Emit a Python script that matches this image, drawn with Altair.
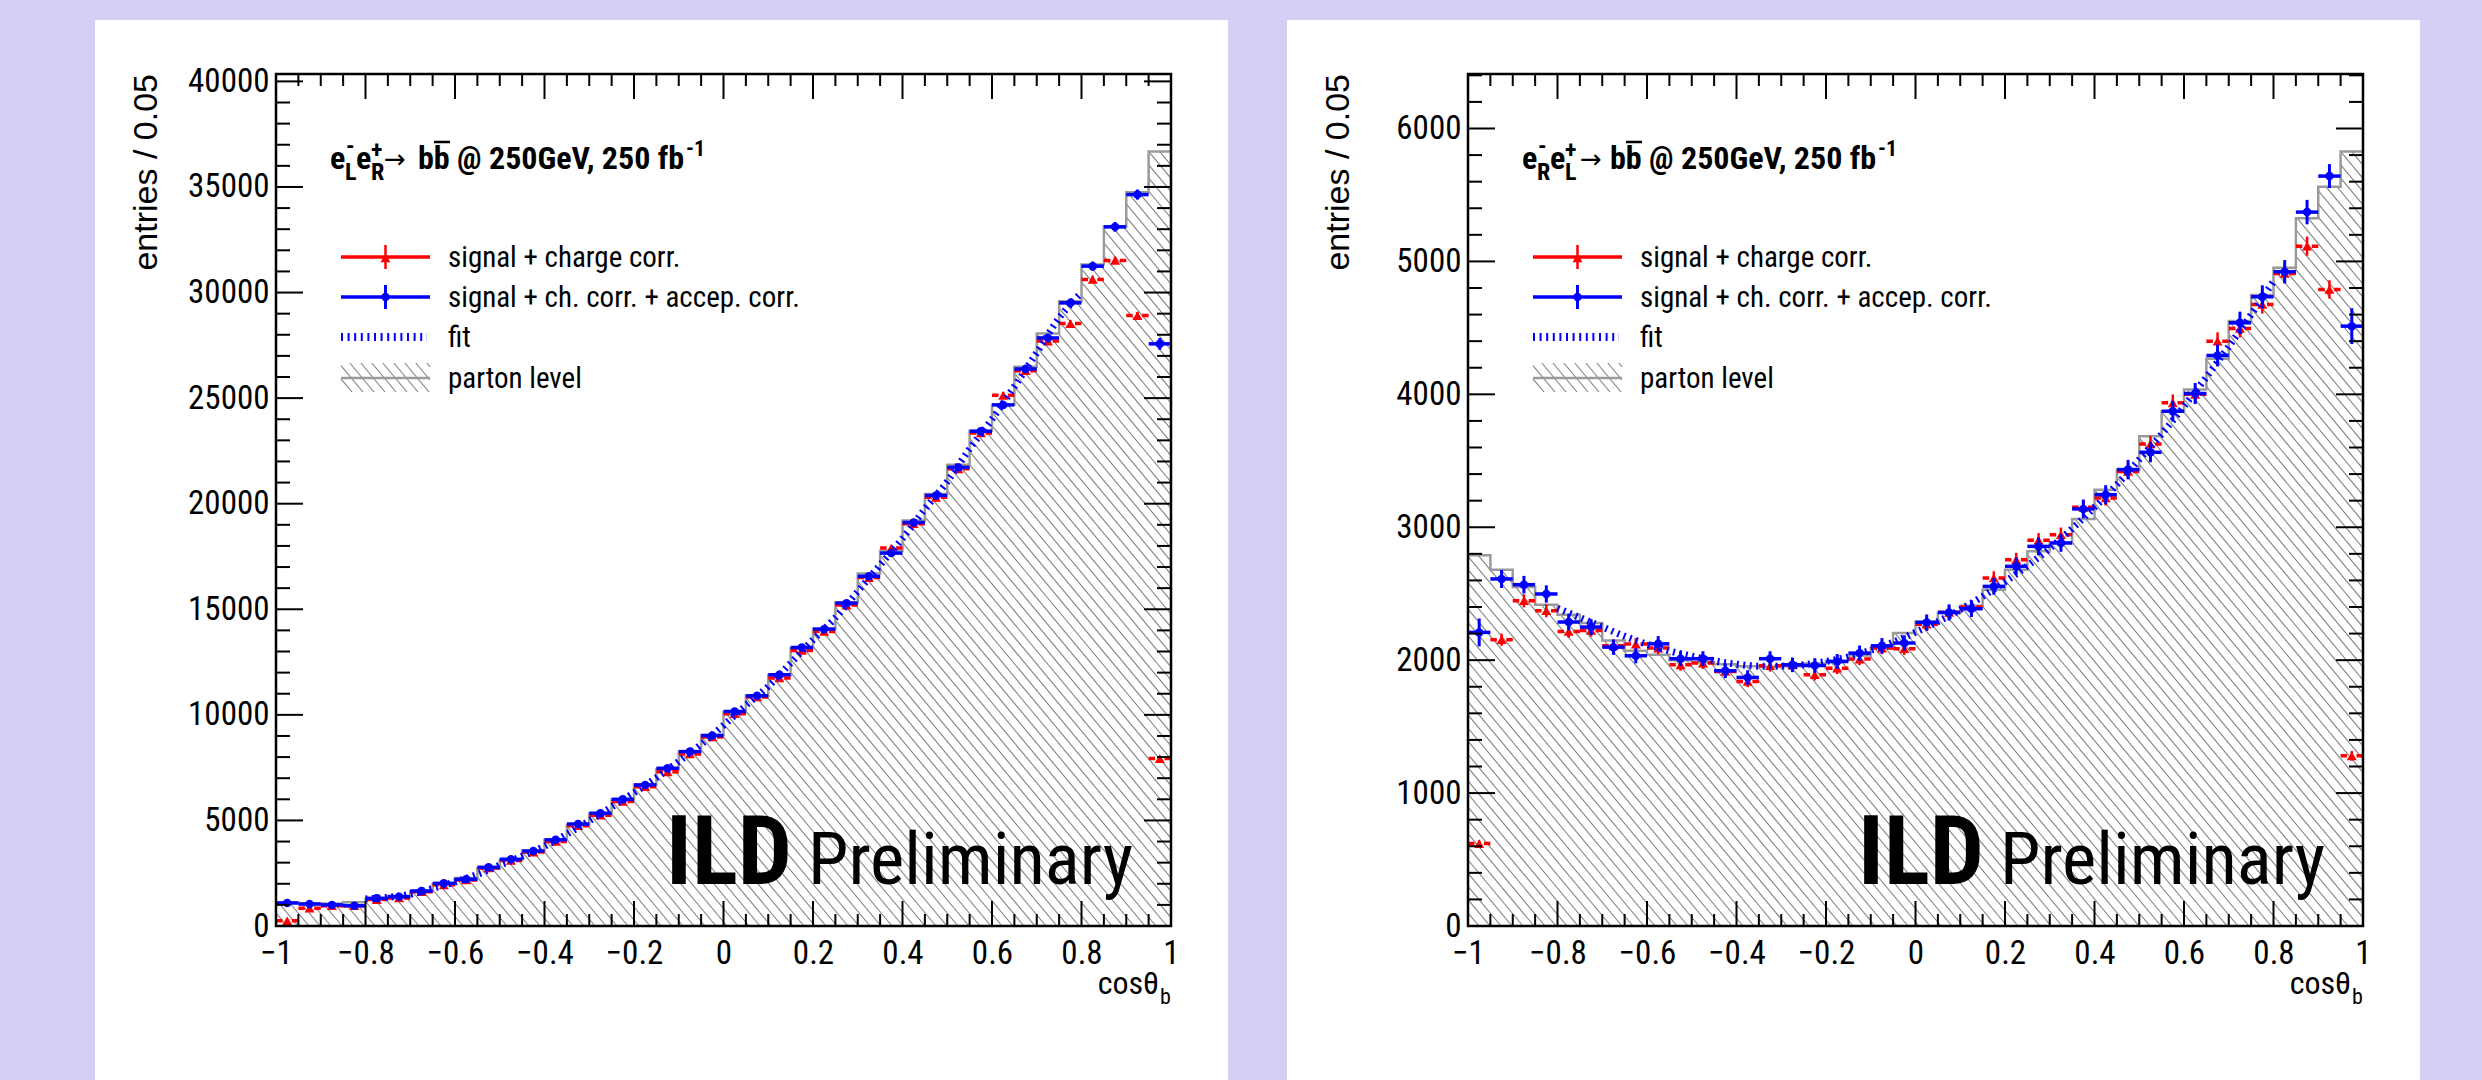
import altair as alt
import pandas as pd

# ---------------------------------------------------------------- style
FONT = "Roboto Condensed, Liberation Sans Narrow, Arial Narrow, Liberation Sans, sans-serif"
YFONT = "Liberation Sans, Arial, sans-serif"
RED, BLUE = "#ff0000", "#0000ff"
GREY_LINE = "#9a9a9a"
HATCH = "#808080"
PAGE_BG = "#d4cff3"

W, H = 895, 852          # plot area of one panel, px
N_BINS = 40              # cos(theta_b) bins of width 0.05

# ---------------------------------------------------------------- data
lo_edges = [round(-1 + 0.05 * i, 2) for i in range(N_BINS)]
fit_x = [round(-0.8 + 0.05 * i, 2) for i in range(33)]

# e-_L e+_R -> b bbar
lr_parton = [1130, 1080, 1060, 1120, 1280, 1420, 1650, 1980, 2270, 2720,
             3130, 3580, 4080, 4780, 5330, 5990, 6700, 7440, 8260, 9050,
             10120, 10920, 11880, 13150, 14080, 15330, 16700, 17770, 19210, 20460,
             21850, 23460, 24690, 26480, 28060, 29590, 31330, 33140, 34750, 36680]
lr_red = [250, 840, 960, 960, 1250, 1330, 1620, 1950, 2180, 2750,
          3100, 3500, 4000, 4750, 5250, 5900, 6600, 7300, 8150, 8950,
          10050, 10850, 11750, 13050, 13950, 15200, 16500, 17900, 19050, 20300,
          21650, 23350, 25130, 26300, 27700, 28530, 30620, 31520, 28910, 7930]
lr_red_err = [20, 30, 30, 30, 35, 37, 40, 44, 47, 52, 56, 59, 63, 69, 73, 77, 82, 85, 90, 95,
              100, 104, 108, 114, 118, 123, 128, 134, 138, 142, 147, 153, 158, 162, 166, 169,
              175, 177, 170, 89]
lr_blue = [1090, 1040, 1000, 960, 1310, 1390, 1660, 2020, 2210, 2780,
           3160, 3550, 4080, 4830, 5340, 6000, 6680, 7470, 8260, 9020,
           10160, 10900, 11900, 13190, 14060, 15290, 16560, 17660, 19110, 20390,
           21720, 23430, 24680, 26380, 27850, 29510, 31250, 33110, 34640, 27570]
lr_blue_err = [60, 45, 45, 45, 50, 50, 55, 60, 60, 70, 75, 80, 85, 90, 95, 100, 105, 110, 115, 120,
               125, 130, 135, 145, 150, 155, 160, 165, 170, 175, 180, 190, 195, 200, 205, 210,
               220, 230, 240, 280]
lr_fit = [1280, 1360, 1500, 1780, 2090, 2440, 2880, 3300, 3780, 4350, 4980, 5640, 6310,
          7020, 7800, 8600, 9500, 10450, 11350, 12450, 13550, 14600, 15850, 17100, 18350,
          19750, 21050, 22600, 24000, 25550, 27150, 28800, 30000]

# e-_R e+_L -> b bbar
rl_parton = [2789, 2681, 2550, 2417, 2342, 2279, 2148, 2070, 2040, 2000,
             1985, 1970, 1955, 1950, 1955, 1975, 1995, 2035, 2090, 2204,
             2290, 2355, 2410, 2530, 2680, 2819, 2880, 3062, 3283, 3430,
             3685, 3873, 4036, 4267, 4551, 4747, 4952, 5324, 5562, 5826]
rl_red = [620, 2154, 2447, 2372, 2216, 2224, 2108, 2121, 2091, 1965,
          1978, 1915, 1840, 1958, 1965, 1890, 1940, 2008, 2091, 2086,
          2270, 2360, 2400, 2618, 2756, 2902, 2944, 3150, 3220, 3420,
          3627, 3936, 4000, 4400, 4496, 4676, 4910, 5115, 4789, 1280]
rl_red_err = [25, 46, 49, 49, 47, 47, 46, 46, 46, 44, 44, 44, 43, 44, 44, 43, 44, 45, 46, 46,
              48, 49, 49, 51, 52, 54, 54, 56, 57, 58, 60, 63, 63, 66, 67, 68, 70, 72, 69, 36]
rl_blue = [2209, 2611, 2568, 2498, 2287, 2249, 2098, 2033, 2123, 2011,
           2011, 1920, 1870, 2011, 1965, 1960, 1990, 2053, 2108, 2129,
           2284, 2359, 2387, 2555, 2706, 2856, 2882, 3138, 3245, 3434,
           3564, 3873, 4006, 4292, 4538, 4734, 4922, 5371, 5642, 4513]
rl_blue_err = [105, 68, 66, 65, 62, 60, 58, 57, 58, 56, 56, 55, 54, 56, 55, 55, 56, 57, 58, 58,
               60, 61, 62, 63, 65, 67, 67, 70, 71, 73, 75, 78, 79, 82, 84, 86, 88, 92, 90, 135]
rl_fit = [2390, 2320, 2250, 2180, 2120, 2070, 2030, 1995, 1970, 1955, 1955, 1965, 1990,
          2025, 2075, 2135, 2210, 2290, 2380, 2480, 2590, 2710, 2840, 2990, 3150, 3320,
          3510, 3700, 3910, 4130, 4360, 4600, 4850]

ONE = pd.DataFrame({"k": [0]})


# ---------------------------------------------------------------- helpers
def px2x(px):
    return -1.0 + 2.0 * px / W


def py2y(py, ymax):
    return ymax * (1.0 - py / H)


def hatch_rows(ymax, left, top, right, bottom, spacing=11.0, slope=1.2):
    """Diagonal '\\' hatch lines clipped to a pixel box, returned in data units."""
    rows = []
    run = (bottom - top) / slope
    a = left - run
    while a < right:
        t0 = max(top, top + (left - a) * slope)
        t1 = min(bottom, top + (right - a) * slope)
        if t1 > t0:
            xa = a + (t0 - top) / slope
            xb = a + (t1 - top) / slope
            rows.append({"x1": px2x(xa), "y1": py2y(t0, ymax),
                         "x2": px2x(xb), "y2": py2y(t1, ymax)})
        a += spacing
    return pd.DataFrame(rows)


def tick_rows(ymax, y_major, y_minor):
    """Inward ticks on all four sides of the frame."""
    x_major = [round(-1 + 0.2 * i, 2) for i in range(11)]
    x_minor = [round(-1 + 0.05 * i, 2) for i in range(41) if i % 4]
    rows = []
    for vals, ln in ((x_major, 25), (x_minor, 12)):
        d = ln / H * ymax
        for v in vals:
            rows.append(dict(x1=v, x2=v, y1=0, y2=d))
            rows.append(dict(x1=v, x2=v, y1=ymax, y2=ymax - d))
    for vals, ln in ((y_major, 27), (y_minor, 14)):
        d = ln / W * 2
        for v in vals:
            rows.append(dict(x1=-1, x2=-1 + d, y1=v, y2=v))
            rows.append(dict(x1=1, x2=1 - d, y1=v, y2=v))
    return pd.DataFrame(rows)


def label(text, px, py, size, weight="normal", font=FONT, align="left",
          baseline="alphabetic", angle=0):
    mk = dict(text=text, font=font, fontSize=size, fontWeight=weight,
              align=align, baseline=baseline, color="black")
    if angle:
        mk["angle"] = angle
    return alt.Chart(ONE).mark_text(**mk).encode(x=alt.value(px), y=alt.value(py))


def hline(x1, x2, y, color, width, dash=None):
    mk = dict(color=color, strokeWidth=width)
    if dash:
        mk["strokeDash"] = dash
    return alt.Chart(ONE).mark_rule(**mk).encode(x=alt.value(x1), x2=alt.value(x2), y=alt.value(y))


def vline(x, y1, y2, color, width):
    return alt.Chart(ONE).mark_rule(color=color, strokeWidth=width).encode(
        x=alt.value(x), y=alt.value(y1), y2=alt.value(y2))


def panel(parton, red, red_err, blue, blue_err, fit, ymax, y_major, y_minor, beam):
    xs = alt.Scale(domain=[-1, 1], nice=False, zero=False)
    ysc = alt.Scale(domain=[0, ymax], nice=False, zero=False)

    bins = pd.DataFrame({
        "lo": lo_edges,
        "hi": [round(v + 0.05, 2) for v in lo_edges],
        "c": [round(v + 0.025, 3) for v in lo_edges],
        "red": red, "red_lo": [v - e for v, e in zip(red, red_err)],
        "red_hi": [v + e for v, e in zip(red, red_err)],
        "blue": blue, "blue_lo": [v - e for v, e in zip(blue, blue_err)],
        "blue_hi": [v + e for v, e in zip(blue, blue_err)],
    })
    hist = pd.DataFrame({"edge": lo_edges + [1.0], "val": parton + [parton[-1]],
                         "top": [ymax] * (N_BINS + 1)})
    fit_df = pd.DataFrame({"x": fit_x, "y": fit})

    x_axis = alt.Axis(values=[round(-1 + 0.2 * i, 2) for i in range(11)], format=".1~f",
                      ticks=False, tickSize=0, domain=False, grid=False, title=None,
                      labelFont=FONT, labelFontSize=33, labelColor="black",
                      labelPadding=11, labelFlush=False, labelOverlap=False, zindex=1)
    y_axis = alt.Axis(values=y_major, format="d", ticks=False, tickSize=0, domain=False,
                      grid=False, title=None, labelFont=FONT, labelFontSize=33,
                      labelColor="black", labelPadding=7, labelFlush=False,
                      labelOverlap=False, zindex=1)

    def X(f):
        return alt.X(f, scale=xs, axis=x_axis)

    def Y(f):
        return alt.Y(f, scale=ysc, axis=y_axis)

    layers = [
        # white pad behind the panel
        alt.Chart(ONE).mark_rect(color="white").encode(
            x=alt.value(-181), x2=alt.value(952), y=alt.value(-54), y2=alt.value(1006)),
        # hatch fill of the parton-level histogram (masked above the histogram)
        alt.Chart(hatch_rows(ymax, 0, 0, W, H)).mark_rule(color=HATCH, strokeWidth=1.1).encode(
            x=X("x1:Q"), y=Y("y1:Q"), x2="x2:Q", y2="y2:Q"),
        alt.Chart(hist).mark_area(interpolate="step-after", color="white", opacity=1).encode(
            x=X("edge:Q"), y=Y("val:Q"), y2="top:Q"),
        alt.Chart(hist).mark_line(interpolate="step-after", color=GREY_LINE, strokeWidth=2.5).encode(
            x=X("edge:Q"), y=Y("val:Q")),
        # signal + charge corr.
        alt.Chart(bins).mark_rule(color=RED, strokeWidth=3.5, strokeDash=[6.5, 9.4]).encode(
            x=X("lo:Q"), x2="hi:Q", y=Y("red:Q")),
        alt.Chart(bins).mark_rule(color=RED, strokeWidth=2.5).encode(
            x=X("c:Q"), y=Y("red_lo:Q"), y2="red_hi:Q"),
        alt.Chart(bins).mark_point(shape="triangle-up", filled=True, size=100, color=RED,
                                   opacity=1).encode(x=X("c:Q"), y=Y("red:Q")),
        # signal + ch. corr. + accep. corr.
        alt.Chart(bins).mark_rule(color=BLUE, strokeWidth=3.5).encode(
            x=X("lo:Q"), x2="hi:Q", y=Y("blue:Q")),
        alt.Chart(bins).mark_rule(color=BLUE, strokeWidth=3).encode(
            x=X("c:Q"), y=Y("blue_lo:Q"), y2="blue_hi:Q"),
        alt.Chart(bins).mark_circle(size=72, color=BLUE, opacity=1).encode(
            x=X("c:Q"), y=Y("blue:Q")),
        # fit
        alt.Chart(fit_df).mark_line(color=BLUE, strokeWidth=7, strokeDash=[2, 4.5],
                                    interpolate="monotone").encode(x=X("x:Q"), y=Y("y:Q")),
        # ticks and frame
        alt.Chart(tick_rows(ymax, y_major, y_minor)).mark_rule(color="black", strokeWidth=2).encode(
            x=X("x1:Q"), x2="x2:Q", y=Y("y1:Q"), y2="y2:Q"),
        alt.Chart(ONE).mark_rect(filled=False, stroke="black", strokeWidth=2.5).encode(
            x=alt.value(0), x2=alt.value(W), y=alt.value(0), y2=alt.value(H)),
        # watermark
        label("ILD", 390, 810, 96, "bold"),
        label("Preliminary", 532, 810, 73),
        # axis titles
        label("entries / 0.05", -129, 0, 34, font=YFONT, align="right", baseline="middle", angle=270),
        label("cos\u03b8", W - 12, H + 68, 32, align="right"),
        label("b", W - 11, H + 78, 22),
    ]

    # process label
    s1, s2, e2x, s2x, arx = beam
    layers += [
        label("e", 54, 95, 32, "bold"),
        label("-", 70, 80, 24, "bold"),
        label(s1, 69, 106, 24, "bold"),
        label("e", e2x, 95, 32, "bold"),
        label("+", s2x, 84, 24, "bold"),
        label(s2, s2x, 106, 24, "bold"),
        label("\u2192", arx, 94, 26, font="DejaVu Sans"),
        label("bb @ 250GeV, 250 fb", 142, 95, 32, "bold"),
        hline(158, 174, 68, "black", 2.5),
        label("-1", 410, 82, 22, "bold"),
    ]

    # legend
    leg_hatch = hatch_rows(ymax, 65, 289, 154, 318)
    layers += [
        hline(65, 154, 183, RED, 3.5),
        vline(109.5, 171, 195, RED, 2.5),
        alt.Chart(ONE).mark_point(shape="triangle-up", filled=True, size=100, color=RED,
                                  opacity=1).encode(x=alt.value(109.5), y=alt.value(184)),
        hline(65, 154, 223, BLUE, 3.5),
        vline(109.5, 211, 235, BLUE, 3),
        alt.Chart(ONE).mark_circle(size=72, color=BLUE, opacity=1).encode(
            x=alt.value(109.5), y=alt.value(223)),
        hline(65, 151, 263, BLUE, 8, [2, 4.6]),
        alt.Chart(leg_hatch).mark_rule(color=HATCH, strokeWidth=1.1).encode(
            x=X("x1:Q"), x2="x2:Q", y=Y("y1:Q"), y2="y2:Q"),
        hline(65, 154, 304, GREY_LINE, 2.5),
        label("signal  + charge corr.", 172, 193, 29),
        label("signal + ch. corr. + accep. corr.", 172, 233, 29),
        label("fit", 172, 273, 29),
        label("parton level", 172, 314, 29),
    ]
    return alt.layer(*layers).properties(width=W, height=H)


left = panel(lr_parton, lr_red, lr_red_err, lr_blue, lr_blue_err, lr_fit, 40350,
             list(range(0, 40001, 5000)),
             [v for v in range(1000, 40000, 1000) if v % 5000],
             ("L", "R", 80, 95, 108))
right = panel(rl_parton, rl_red, rl_red_err, rl_blue, rl_blue_err, rl_fit, 6410,
              list(range(0, 6001, 1000)),
              [v for v in range(200, 6401, 200) if v % 1000 and v < 6410],
              ("R", "L", 82, 97, 112))

chart = alt.hconcat(left, right, spacing=297, bounds="flush").properties(
    background=PAGE_BG,
    padding={"left": 95, "top": 20, "right": 62, "bottom": 0},
).configure_view(stroke=None)

chart.save("out.html", embed_options={"renderer": "svg", "actions": False})
